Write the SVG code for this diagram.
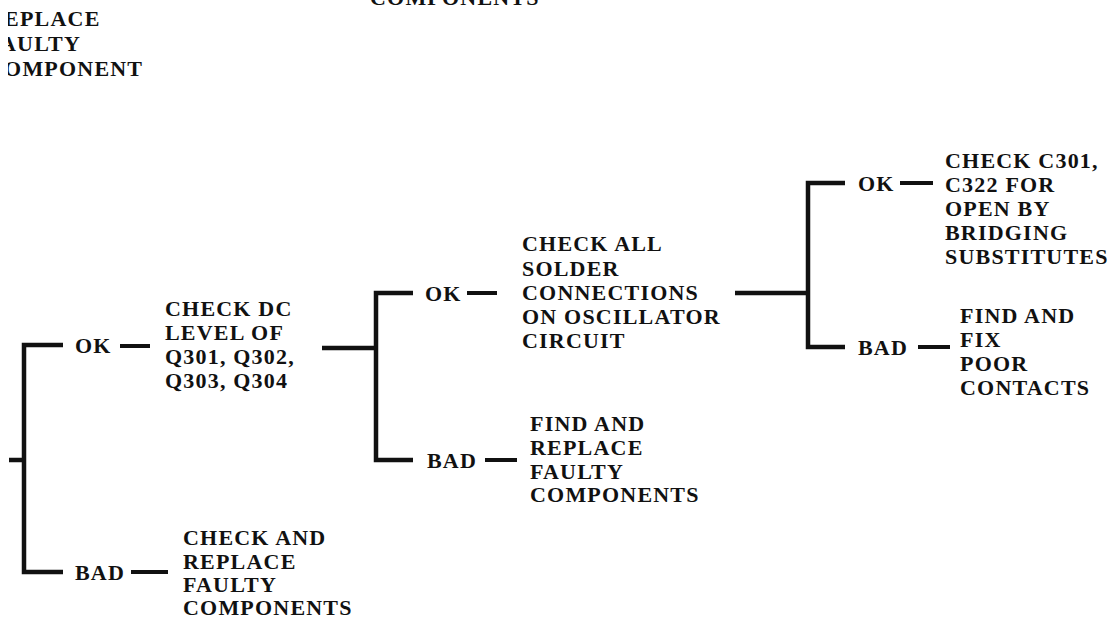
<svg xmlns="http://www.w3.org/2000/svg" width="1119" height="625" viewBox="0 0 1119 625">
<style>
text{font-family:"Liberation Serif","Times New Roman",serif;font-size:22px;font-weight:bold;letter-spacing:1.2px;fill:#111}
.ln{stroke:#111;stroke-width:4.5;fill:none;stroke-linecap:butt;stroke-linejoin:miter}
.d{stroke:#111;stroke-width:4;fill:none}
</style>
<defs><clipPath id="scanEdge"><rect x="8" y="0" width="300" height="100"/></clipPath></defs>
<rect width="1119" height="625" fill="#fff"/>
<g id="connectors">
<path class="ln" d="M9,460 H24 M63,345 H24 V572 H63"/>
<path class="d" d="M120,346 H150"/>
<path class="d" d="M131,572 H168"/>
<path class="ln" d="M322,348 H376 M413,293 H376 V460 H413"/>
<path class="d" d="M467,293 H497"/>
<path class="d" d="M485,460 H517"/>
<path class="ln" d="M735,293 H808 M845,183 H808 V347 H845"/>
<path class="d" d="M900,183 H933"/>
<path class="d" d="M918,347 H950"/>
</g>
<g id="n-top-left" clip-path="url(#scanEdge)"><text x="-13" y="26">REPLACE</text><text x="-13" y="51">FAULTY</text><text x="-13" y="76">COMPONENT</text></g>
<g id="n-top-center"><text x="370" y="5">COMPONENTS</text></g>
<g id="l-ok1"><text x="75" y="353">OK</text></g>
<g id="l-bad1"><text x="75" y="580">BAD</text></g>
<g id="n-dc"><text x="165" y="316">CHECK DC</text><text x="165" y="340">LEVEL OF</text><text x="165" y="364">Q301, Q302,</text><text x="165" y="388">Q303, Q304</text></g>
<g id="n-bad1"><text x="183" y="545">CHECK AND</text><text x="183" y="569">REPLACE</text><text x="183" y="592">FAULTY</text><text x="183" y="615">COMPONENTS</text></g>
<g id="l-ok2"><text x="425" y="301">OK</text></g>
<g id="l-bad2"><text x="427" y="468">BAD</text></g>
<g id="n-solder"><text x="522" y="251">CHECK ALL</text><text x="522" y="276">SOLDER</text><text x="522" y="300">CONNECTIONS</text><text x="522" y="324">ON OSCILLATOR</text><text x="522" y="348">CIRCUIT</text></g>
<g id="n-bad2"><text x="530" y="431">FIND AND</text><text x="530" y="455">REPLACE</text><text x="530" y="479">FAULTY</text><text x="530" y="502">COMPONENTS</text></g>
<g id="l-ok3"><text x="858" y="191">OK</text></g>
<g id="l-bad3"><text x="858" y="355">BAD</text></g>
<g id="n-c301"><text x="945" y="168">CHECK C301,</text><text x="945" y="192">C322 FOR</text><text x="945" y="216">OPEN BY</text><text x="945" y="240">BRIDGING</text><text x="945" y="264">SUBSTITUTES</text></g>
<g id="n-fix"><text x="960" y="323">FIND AND</text><text x="960" y="347">FIX</text><text x="960" y="371">POOR</text><text x="960" y="395">CONTACTS</text></g>
</svg>
